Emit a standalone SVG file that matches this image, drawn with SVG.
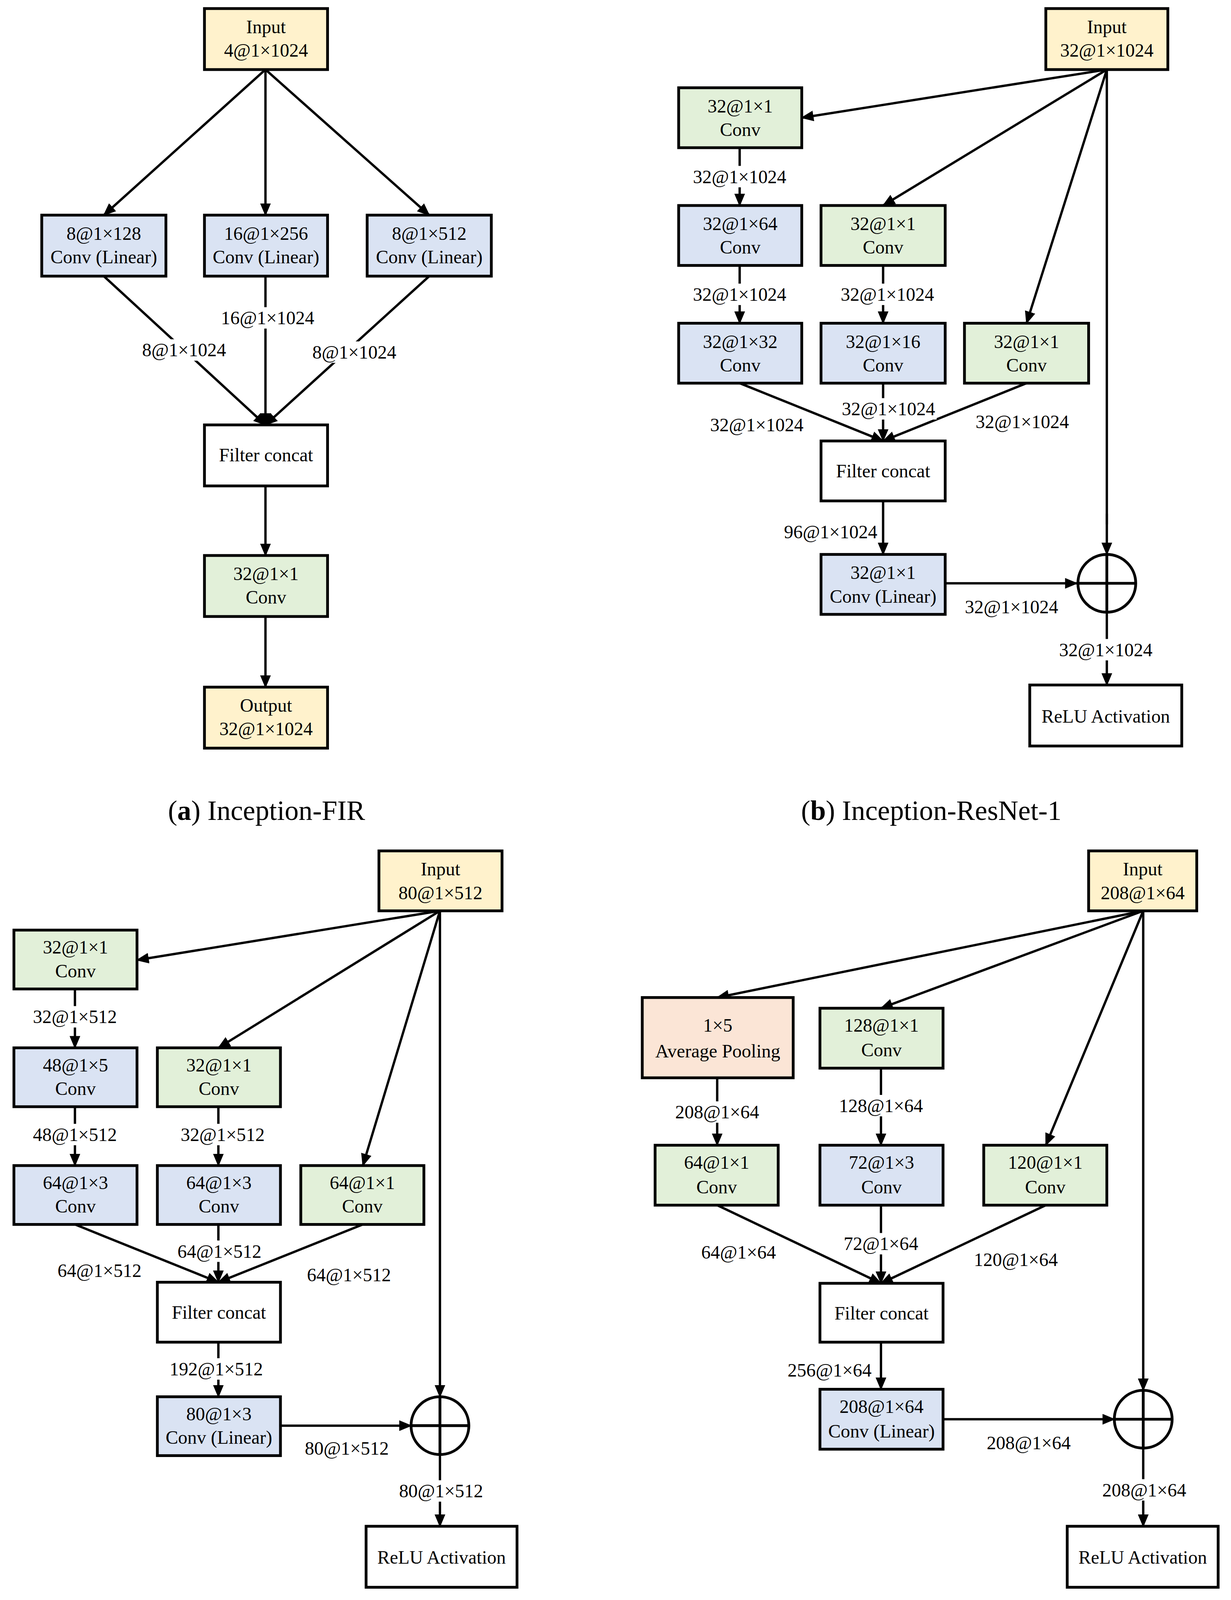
<svg xmlns="http://www.w3.org/2000/svg" width="3151" height="4300" viewBox="0 0 3151 4300">
<style>
.b{stroke:#000;stroke-width:2.6}
.y{fill:#FFF2CC}.bl{fill:#DAE3F3}.g{fill:#E2F0D9}.o{fill:#FBE5D6}.w{fill:#fff}
text{font-family:"Liberation Serif","DejaVu Serif",serif;font-size:17.5px;text-anchor:middle;fill:#000}
.cap{font-size:26px}
.c line,.c path{stroke:#000;stroke-width:2.2;fill:none}
.a{marker-end:url(#ah)}
.lb{fill:#fff}
</style>
<defs>
<marker id="ah" markerUnits="userSpaceOnUse" markerWidth="12" markerHeight="10" refX="11" refY="5" orient="auto"><path d="M0,0 L12,5 L0,10 z" fill="#000"/></marker>
</defs>
<rect width="3151" height="4300" fill="#fff"/>
<g transform="scale(2.74)">
<!-- Panel a connectors -->
<g class="c" id="conn-a">
<line class="a" x1="248" y1="65" x2="97" y2="201"/>
<line class="a" x1="248" y1="65" x2="248" y2="201"/>
<line class="a" x1="248" y1="65" x2="401" y2="201"/>
<line class="a" x1="97" y1="258" x2="248" y2="397"/>
<line class="a" x1="248" y1="258" x2="248" y2="397"/>
<line class="a" x1="401" y1="258" x2="248" y2="397"/>
<line class="a" x1="248" y1="454" x2="248" y2="519"/>
<line class="a" x1="248" y1="576" x2="248" y2="642"/>
<rect class="lb" x="204" y="287" width="90" height="20" stroke="none"/>
<rect class="lb" x="130" y="317" width="84" height="20" stroke="none"/>
<rect class="lb" x="289" y="319" width="84" height="20" stroke="none"/>
<text x="250" y="303">16@1×1024</text>
<text x="172" y="333">8@1×1024</text>
<text x="331" y="335">8@1×1024</text>
</g>
<g id="a-input"><rect class="b y" x="191" y="8" width="115" height="57"/><text x="248.5" y="31">Input</text><text x="248.5" y="53">4@1×1024</text></g>
<g id="a-c1"><rect class="b bl" x="39" y="201" width="116" height="57"/><text x="97" y="224">8@1×128</text><text x="97" y="246">Conv (Linear)</text></g>
<g id="a-c2"><rect class="b bl" x="191" y="201" width="115" height="57"/><text x="248.5" y="224">16@1×256</text><text x="248.5" y="246">Conv (Linear)</text></g>
<g id="a-c3"><rect class="b bl" x="343" y="201" width="116" height="57"/><text x="401" y="224">8@1×512</text><text x="401" y="246">Conv (Linear)</text></g>
<g id="a-fc"><rect class="b w" x="191" y="397" width="115" height="57"/><text x="248.5" y="431">Filter concat</text></g>
<g id="a-c4"><rect class="b g" x="191" y="519" width="115" height="57"/><text x="248.5" y="542">32@1×1</text><text x="248.5" y="564">Conv</text></g>
<g id="a-out"><rect class="b y" x="191" y="642" width="115" height="57"/><text x="248.5" y="665">Output</text><text x="248.5" y="687">32@1×1024</text></g>
<text class="cap" x="249" y="766">(<tspan font-weight="bold">a</tspan>) Inception-FIR</text>

<!-- Panel b -->
<g class="c" id="conn-b">
<line class="a" x1="1034" y1="65" x2="749" y2="110"/>
<line class="a" x1="1034" y1="65" x2="825" y2="192"/>
<line class="a" x1="1034" y1="65" x2="959" y2="302"/>
<line x1="1034" y1="65" x2="1034" y2="490"/>
<line class="a" x1="1034" y1="480" x2="1034" y2="518"/>
<line class="a" x1="691" y1="138" x2="691" y2="192"/>
<line class="a" x1="691" y1="248" x2="691" y2="302"/>
<line class="a" x1="825" y1="248" x2="825" y2="302"/>
<line class="a" x1="691" y1="358" x2="825" y2="412"/>
<line class="a" x1="825" y1="358" x2="825" y2="412"/>
<line class="a" x1="959" y1="358" x2="825" y2="412"/>
<line class="a" x1="825" y1="468" x2="825" y2="518"/>
<line class="a" x1="883" y1="545" x2="1006" y2="545"/>
<line class="a" x1="1034" y1="572" x2="1034" y2="640"/>
<rect class="lb" x="646" y="155" width="90" height="20"/>
<rect class="lb" x="646" y="265" width="90" height="20"/>
<rect class="lb" x="784" y="265" width="90" height="20"/>
<rect class="lb" x="785" y="372" width="90" height="20"/>
<rect class="lb" x="731" y="487" width="90" height="20"/>
<rect class="lb" x="988" y="597" width="90" height="20"/>
<text x="691" y="171">32@1×1024</text>
<text x="691" y="281">32@1×1024</text>
<text x="829" y="281">32@1×1024</text>
<text x="707" y="403">32@1×1024</text>
<text x="830" y="388">32@1×1024</text>
<text x="955" y="400">32@1×1024</text>
<text x="776" y="503">96@1×1024</text>
<text x="945" y="573">32@1×1024</text>
<text x="1033" y="613">32@1×1024</text>
</g>
<g id="b-input"><rect class="b y" x="977" y="8" width="114" height="57"/><text x="1034" y="31">Input</text><text x="1034" y="53">32@1×1024</text></g>
<g id="b-c1"><rect class="b g" x="634" y="82" width="115" height="56"/><text x="691.5" y="105">32@1×1</text><text x="691.5" y="127">Conv</text></g>
<g id="b-c2"><rect class="b bl" x="634" y="192" width="115" height="56"/><text x="691.5" y="215">32@1×64</text><text x="691.5" y="237">Conv</text></g>
<g id="b-c3"><rect class="b g" x="767" y="192" width="116" height="56"/><text x="825" y="215">32@1×1</text><text x="825" y="237">Conv</text></g>
<g id="b-c4"><rect class="b bl" x="634" y="302" width="115" height="56"/><text x="691.5" y="325">32@1×32</text><text x="691.5" y="347">Conv</text></g>
<g id="b-c5"><rect class="b bl" x="767" y="302" width="116" height="56"/><text x="825" y="325">32@1×16</text><text x="825" y="347">Conv</text></g>
<g id="b-c6"><rect class="b g" x="901" y="302" width="116" height="56"/><text x="959" y="325">32@1×1</text><text x="959" y="347">Conv</text></g>
<g id="b-fc"><rect class="b w" x="767" y="412" width="116" height="56"/><text x="825" y="446">Filter concat</text></g>
<g id="b-c7"><rect class="b bl" x="767" y="518" width="116" height="56"/><text x="825" y="541">32@1×1</text><text x="825" y="563">Conv (Linear)</text></g>
<g id="b-add"><circle class="b w" cx="1034" cy="545" r="27"/><line class="b" x1="1007" y1="545" x2="1061" y2="545"/><line class="b" x1="1034" y1="518" x2="1034" y2="572"/></g>
<g id="b-relu"><rect class="b w" x="962" y="640" width="142" height="57"/><text x="1033" y="675">ReLU Activation</text></g>
<text class="cap" x="870" y="766">(<tspan font-weight="bold">b</tspan>) Inception-ResNet-1</text>

<!-- Panel c -->
<g class="c" id="conn-c">
<line class="a" x1="411" y1="851" x2="128" y2="897"/>
<line class="a" x1="411" y1="851" x2="204" y2="979"/>
<line class="a" x1="411" y1="851" x2="339" y2="1089"/>
<line class="a" x1="411" y1="851" x2="411" y2="1305"/>
<line class="a" x1="70" y1="924" x2="70" y2="979"/>
<line class="a" x1="70" y1="1034" x2="70" y2="1089"/>
<line class="a" x1="204" y1="1034" x2="204" y2="1089"/>
<line class="a" x1="70" y1="1144" x2="204" y2="1198"/>
<line class="a" x1="204" y1="1144" x2="204" y2="1198"/>
<line class="a" x1="339" y1="1144" x2="204" y2="1198"/>
<line class="a" x1="204" y1="1254" x2="204" y2="1305"/>
<line class="a" x1="262" y1="1332" x2="384" y2="1332"/>
<line class="a" x1="411" y1="1359" x2="411" y2="1426"/>
<rect class="lb" x="30" y="940" width="80" height="20"/>
<rect class="lb" x="30" y="1050" width="80" height="20"/>
<rect class="lb" x="168" y="1050" width="80" height="20"/>
<rect class="lb" x="165" y="1159" width="80" height="20"/>
<rect class="lb" x="157" y="1269" width="90" height="20"/>
<rect class="lb" x="372" y="1383" width="80" height="20"/>
<text x="70" y="956">32@1×512</text>
<text x="70" y="1066">48@1×512</text>
<text x="208" y="1066">32@1×512</text>
<text x="93" y="1193">64@1×512</text>
<text x="205" y="1175">64@1×512</text>
<text x="326" y="1197">64@1×512</text>
<text x="202" y="1285">192@1×512</text>
<text x="324" y="1359">80@1×512</text>
<text x="412" y="1399">80@1×512</text>
</g>
<g id="c-input"><rect class="b y" x="354" y="795" width="115" height="56"/><text x="411.5" y="818">Input</text><text x="411.5" y="840">80@1×512</text></g>
<g id="c-c1"><rect class="b g" x="13" y="869" width="115" height="55"/><text x="70.5" y="891">32@1×1</text><text x="70.5" y="913">Conv</text></g>
<g id="c-c2"><rect class="b bl" x="13" y="979" width="115" height="55"/><text x="70.5" y="1001">48@1×5</text><text x="70.5" y="1023">Conv</text></g>
<g id="c-c3"><rect class="b g" x="147" y="979" width="115" height="55"/><text x="204.5" y="1001">32@1×1</text><text x="204.5" y="1023">Conv</text></g>
<g id="c-c4"><rect class="b bl" x="13" y="1089" width="115" height="55"/><text x="70.5" y="1111">64@1×3</text><text x="70.5" y="1133">Conv</text></g>
<g id="c-c5"><rect class="b bl" x="147" y="1089" width="115" height="55"/><text x="204.5" y="1111">64@1×3</text><text x="204.5" y="1133">Conv</text></g>
<g id="c-c6"><rect class="b g" x="281" y="1089" width="115" height="55"/><text x="338.5" y="1111">64@1×1</text><text x="338.5" y="1133">Conv</text></g>
<g id="c-fc"><rect class="b w" x="147" y="1198" width="115" height="56"/><text x="204.5" y="1232">Filter concat</text></g>
<g id="c-c7"><rect class="b bl" x="147" y="1305" width="115" height="55"/><text x="204.5" y="1327">80@1×3</text><text x="204.5" y="1349">Conv (Linear)</text></g>
<g id="c-add"><circle class="b w" cx="411" cy="1332" r="27"/><line class="b" x1="384" y1="1332" x2="438" y2="1332"/><line class="b" x1="411" y1="1305" x2="411" y2="1359"/></g>
<g id="c-relu"><rect class="b w" x="342" y="1426" width="141" height="57"/><text x="412.5" y="1461">ReLU Activation</text></g>
<text class="cap" x="256" y="1554">(<tspan font-weight="bold">c</tspan>) Inception-ResNet-2</text>

<!-- Panel d -->
<g class="c" id="conn-d">
<line class="a" x1="1068" y1="851" x2="670" y2="932"/>
<line class="a" x1="1068" y1="851" x2="823" y2="942"/>
<line class="a" x1="1068" y1="851" x2="977" y2="1070"/>
<line class="a" x1="1068" y1="851" x2="1068" y2="1299"/>
<line class="a" x1="670" y1="1007" x2="670" y2="1070"/>
<line class="a" x1="823" y1="998" x2="823" y2="1070"/>
<line class="a" x1="670" y1="1126" x2="823" y2="1199"/>
<line class="a" x1="823" y1="1126" x2="823" y2="1199"/>
<line class="a" x1="977" y1="1126" x2="823" y2="1199"/>
<line class="a" x1="823" y1="1254" x2="823" y2="1298"/>
<line class="a" x1="881" y1="1326" x2="1041" y2="1326"/>
<line class="a" x1="1068" y1="1353" x2="1068" y2="1426"/>
<rect class="lb" x="628" y="1029" width="84" height="20"/>
<rect class="lb" x="781" y="1023" width="84" height="20"/>
<rect class="lb" x="781" y="1152" width="84" height="20"/>
<rect class="lb" x="733" y="1270" width="84" height="20"/>
<rect class="lb" x="1027" y="1382" width="84" height="20"/>
<text x="670" y="1045">208@1×64</text>
<text x="823" y="1039">128@1×64</text>
<text x="690" y="1176">64@1×64</text>
<text x="823" y="1168">72@1×64</text>
<text x="949" y="1183">120@1×64</text>
<text x="775" y="1286">256@1×64</text>
<text x="961" y="1354">208@1×64</text>
<text x="1069" y="1398">208@1×64</text>
</g>
<g id="d-input"><rect class="b y" x="1017" y="795" width="101" height="56"/><text x="1067.5" y="818">Input</text><text x="1067.5" y="840">208@1×64</text></g>
<g id="d-pool"><rect class="b o" x="600" y="932" width="141" height="75"/><text x="670.5" y="964">1×5</text><text x="670.5" y="988">Average Pooling</text></g>
<g id="d-c1"><rect class="b g" x="766" y="942" width="115" height="56"/><text x="823.5" y="964">128@1×1</text><text x="823.5" y="987">Conv</text></g>
<g id="d-c2"><rect class="b g" x="612" y="1070" width="115" height="56"/><text x="669.5" y="1092">64@1×1</text><text x="669.5" y="1115">Conv</text></g>
<g id="d-c3"><rect class="b bl" x="766" y="1070" width="115" height="56"/><text x="823.5" y="1092">72@1×3</text><text x="823.5" y="1115">Conv</text></g>
<g id="d-c4"><rect class="b g" x="919" y="1070" width="115" height="56"/><text x="976.5" y="1092">120@1×1</text><text x="976.5" y="1115">Conv</text></g>
<g id="d-fc"><rect class="b w" x="766" y="1199" width="115" height="55"/><text x="823.5" y="1233">Filter concat</text></g>
<g id="d-c5"><rect class="b bl" x="766" y="1298" width="115" height="56"/><text x="823.5" y="1320">208@1×64</text><text x="823.5" y="1343">Conv (Linear)</text></g>
<g id="d-add"><circle class="b w" cx="1068" cy="1326" r="27"/><line class="b" x1="1041" y1="1326" x2="1095" y2="1326"/><line class="b" x1="1068" y1="1299" x2="1068" y2="1353"/></g>
<g id="d-relu"><rect class="b w" x="997" y="1426" width="141" height="57"/><text x="1067.5" y="1461">ReLU Activation</text></g>
<text class="cap" x="870" y="1554">(<tspan font-weight="bold">d</tspan>) Inception-ResNet-3</text>
</g>
</svg>
